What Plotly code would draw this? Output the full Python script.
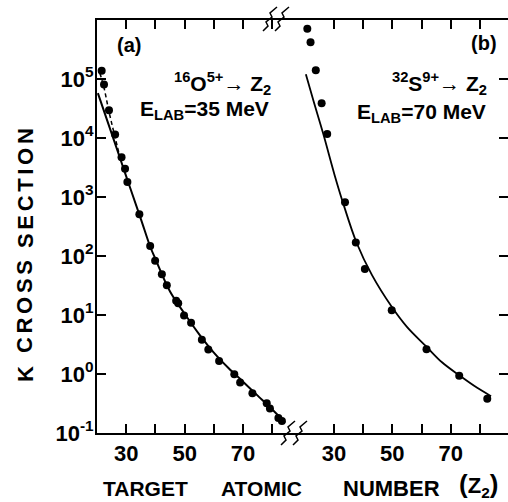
import plotly.graph_objects as go

# ---- data ----
o_z = [21.6, 22.4, 24.1, 26.2, 28.4, 29.6, 30.4, 34.5, 38.2, 39.9, 42.2, 43.9, 47.1, 47.8,
       49.8, 52.2, 55.9, 58.1, 61.8, 67.0, 69.0, 73.2, 78.1, 79.2, 82.1, 83.3]
o_sigma = [1.38e5, 8.1e4, 2.95e4, 1.15e4, 4.7e3, 3.0e3, 1.8e3, 510, 148, 83, 49, 32, 17.4, 15.8,
           9.8, 7.4, 3.8, 2.6, 1.66, 0.99, 0.72, 0.47, 0.32, 0.26, 0.18, 0.16]
o_curve_z = [20.3, 25, 30, 35, 38.2, 40, 45, 50, 55, 60, 65, 70, 75, 80, 84.4]
o_curve_sigma = [5.75e4, 1.2e4, 2.24e3, 427, 145, 89, 25, 10.5, 4.7, 2.3, 1.26, 0.74, 0.43, 0.25, 0.15]
o_dash_z = [21.0, 22.4, 24.1, 26.0, 28.0]
o_dash_sigma = [1.25e5, 7.1e4, 2.8e4, 1.12e4, 4.4e3]

s_z = [20.9, 22.0, 23.8, 25.8, 27.7, 33.8, 37.5, 40.6, 49.8, 61.7, 72.9, 82.5]
s_sigma = [7.1e5, 4.2e5, 1.41e5, 3.9e4, 1.17e4, 813, 170, 60, 12, 2.63, 0.93, 0.38]
s_curve_z = [20.4, 23, 26.3, 30.3, 33, 37.8, 43, 49.8, 55, 61.7, 67, 72.9, 78, 83.8]
s_curve_sigma = [1.2e5, 4.27e4, 1.2e4, 2.3e3, 832, 166, 48, 13.8, 6.3, 2.9, 1.58, 0.95, 0.63, 0.42]

x_tickvals = [30, 40, 50, 60, 70, 80]
x_ticktext = ["30", "", "50", "", "70", ""]
y_tickvals = [1e-1, 1, 10, 100, 1e3, 1e4, 1e5]
y_ticktext = ["10<sup>-1</sup>", "10<sup>0</sup>", "10<sup>1</sup>", "10<sup>2</sup>",
              "10<sup>3</sup>", "10<sup>4</sup>", "10<sup>5</sup>"]

FONT = "Liberation Sans"
W, H = 508, 502
L, R, T, B = 97, 0, 20, 69
PW, PH = W - L - R, H - T - B

def px(x):
    return (x - L) / PW

def py(y):
    return (H - B - y) / PH

split = px(286)

fig = go.Figure()
fig.add_trace(go.Scatter(x=o_curve_z, y=o_curve_sigma, mode="lines", line=dict(color="black", width=2, shape="spline"),
                         xaxis="x", yaxis="y", showlegend=False))
fig.add_trace(go.Scatter(x=o_dash_z, y=o_dash_sigma, mode="lines", line=dict(color="black", width=1.5, dash="4px,3px", shape="spline"),
                         xaxis="x", yaxis="y", showlegend=False))
fig.add_trace(go.Scatter(x=o_z, y=o_sigma, mode="markers", marker=dict(color="black", size=8),
                         xaxis="x", yaxis="y", showlegend=False))
fig.add_trace(go.Scatter(x=s_curve_z, y=s_curve_sigma, mode="lines", line=dict(color="black", width=1.8, shape="spline"),
                         xaxis="x2", yaxis="y", showlegend=False))
fig.add_trace(go.Scatter(x=s_z, y=s_sigma, mode="markers", marker=dict(color="black", size=8),
                         xaxis="x2", yaxis="y", showlegend=False))
# invisible trace to activate the right-side tick axis
fig.add_trace(go.Scatter(x=[50], y=[1], mode="markers", marker=dict(opacity=0), xaxis="x2", yaxis="y2",
                         showlegend=False, hoverinfo="skip"))

tickfont = dict(family=FONT, size=22, color="black", weight="bold")
xcommon = dict(tickmode="array", tickvals=x_tickvals, ticktext=x_ticktext, ticks="inside", ticklen=9,
               tickwidth=1.5, tickcolor="black", showline=True, linecolor="black", linewidth=2,
               mirror="ticks", showgrid=False, zeroline=False, tickfont=tickfont, anchor="y",
               automargin=False)

fig.update_layout(
    width=W, height=H, margin=dict(l=L, r=R, t=T, b=B, autoexpand=False),
    paper_bgcolor="white", plot_bgcolor="white",
    xaxis=dict(domain=[0, split], range=[20.0, 84.7], **xcommon),
    xaxis2=dict(domain=[split, 1], range=[13.6, 89.6], **xcommon),
    yaxis=dict(type="log", range=[-1, 6], tickmode="array", tickvals=y_tickvals, ticktext=y_ticktext,
               ticks="inside", ticklen=9, tickwidth=1.5, tickcolor="black", showline=True, linecolor="black",
               linewidth=2, showgrid=False, zeroline=False, tickfont=tickfont, anchor="x", automargin=False,
               ticklabelstandoff=-3),
    yaxis2=dict(type="log", range=[-1, 6], overlaying="y", side="right", anchor="x2", tickmode="array",
                tickvals=y_tickvals, ticks="inside", ticklen=9, tickwidth=2, tickcolor="black",
                showticklabels=False, showline=False, showgrid=False, zeroline=False, automargin=False),
)

def add_text(text, x, y, size=20, angle=0, xanchor="center"):
    fig.add_annotation(text=text, x=px(x), y=py(y), xref="paper", yref="paper", showarrow=False,
                       font=dict(family=FONT, size=size, color="black", weight="bold"),
                       textangle=angle, xanchor=xanchor, yanchor="middle")

add_text("(a)", 129, 45, size=20)
add_text("(b)", 484, 43, size=20)
add_text("<sup>16</sup>O<sup>5+</sup>\u2192 Z<sub>2</sub>", 172, 83, size=21, xanchor="left")
add_text("E<sub>LAB</sub>=35 MeV", 138, 110, size=21, xanchor="left")
add_text("<sup>32</sup>S<sup>9+</sup>\u2192 Z<sub>2</sub>", 390, 84, size=21, xanchor="left")
add_text("E<sub>LAB</sub>=70 MeV", 355, 113, size=21, xanchor="left")

SP = "\u2006"
def spaced(word):
    return SP.join(word)

# axis titles
add_text("TARGET", 145, 488, size=21)
add_text("ATOMIC", 261, 488, size=21)
add_text("NUMBER", 391, 488, size=22)
add_text("<span style='font-size:26px'>(</span>Z<sub>2</sub><span style='font-size:26px'>)</span>",
         478, 485, size=22)
add_text("K", 25, 374, size=22, angle=-90)
add_text(spaced("CROSS"), 25, 307, size=22, angle=-90)
add_text(spaced("SECTION"), 25, 188, size=22, angle=-90)

# axis break marks
def squiggle(cx, cy):
    shapes = []
    for dx in (-6, 6):
        pts = [(-9, 12), (-4, 7), (-6, 3), (0, -2), (-2, -6), (5, -12)]
        path = "M " + " L ".join(f"{px(cx + dx + a):.5f},{py(cy + b):.5f}" for a, b in pts)
        shapes.append(dict(type="path", path=path, xref="paper", yref="paper",
                           line=dict(color="black", width=1.5)))
    return shapes

for s in squiggle(278, 19) + squiggle(296, 433):
    fig.add_shape(**s)

fig.write_html("out.html", config={"displayModeBar": False},
               post_script="document.body.style.margin='0px';document.body.style.overflow='hidden';")
